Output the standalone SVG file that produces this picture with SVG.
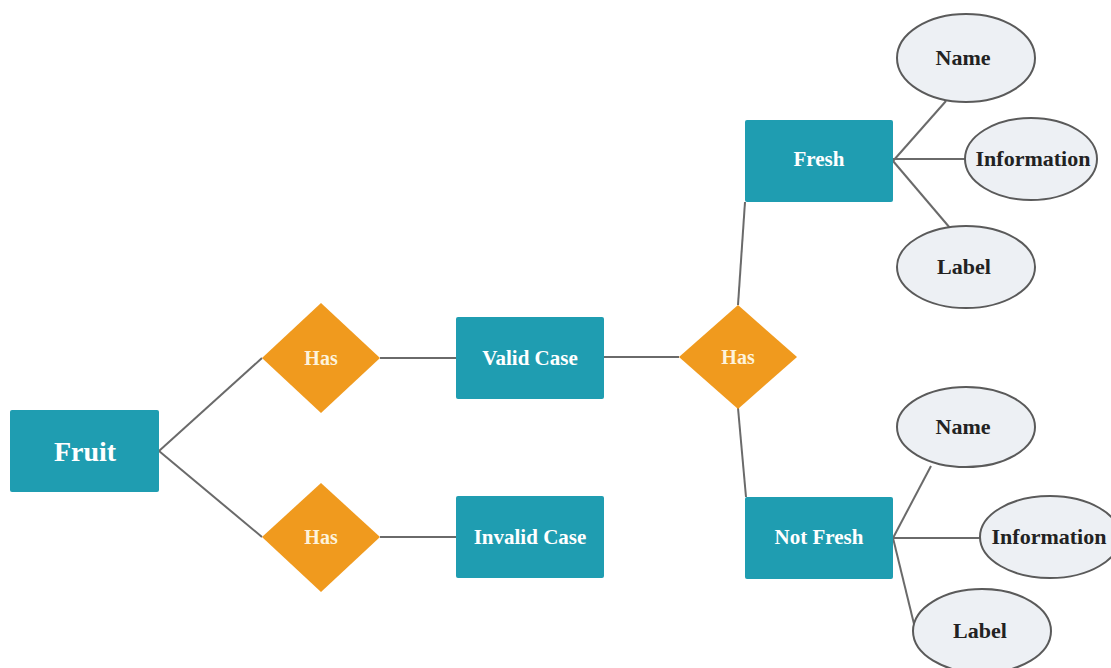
<svg xmlns="http://www.w3.org/2000/svg" width="1111" height="668" viewBox="0 0 1111 668">
<style>
.ent{fill:#1f9db1;}
.rel{fill:#f09a1e;}
.att{fill:#edf0f4;stroke:#5a5a5a;stroke-width:2;}
.conn line{stroke:#6a6a6a;stroke-width:2;}
text{font-family:"Liberation Serif","Times New Roman",serif;font-weight:bold;text-anchor:middle;}
.wt{fill:#ffffff;font-size:21px;}
.ht{fill:#fdf3dc;font-size:20px;}
.dt{fill:#222222;font-size:22px;}
</style>
<rect width="1111" height="668" fill="#ffffff"/>
<g class="conn">
<line x1="159" y1="451" x2="262" y2="358"/>
<line x1="159" y1="451" x2="262" y2="537"/>
<line x1="380" y1="358" x2="456" y2="358"/>
<line x1="380" y1="537" x2="456" y2="537"/>
<line x1="604" y1="357" x2="679" y2="357"/>
<line x1="738" y1="305" x2="745" y2="202"/>
<line x1="738" y1="408" x2="746" y2="497"/>
<line x1="893" y1="161" x2="946" y2="101"/>
<line x1="893" y1="159" x2="965" y2="159"/>
<line x1="893" y1="161" x2="950" y2="228"/>
<line x1="893" y1="538" x2="931" y2="466"/>
<line x1="893" y1="538" x2="980" y2="538"/>
<line x1="893" y1="538" x2="914" y2="624"/>
</g>
<g id="fruit"><rect class="ent" x="10" y="410" width="149" height="82" rx="2"/><text class="wt" x="85" y="461" style="font-size:28px">Fruit</text></g>
<g id="has1"><polygon class="rel" points="321,303 380,358 321,413 262,358"/><text class="ht" x="321" y="365">Has</text></g>
<g id="has2"><polygon class="rel" points="321,483 380,537 321,592 262,537"/><text class="ht" x="321" y="544">Has</text></g>
<g id="valid"><rect class="ent" x="456" y="317" width="148" height="82" rx="2"/><text class="wt" x="530" y="365">Valid Case</text></g>
<g id="invalid"><rect class="ent" x="456" y="496" width="148" height="82" rx="2"/><text class="wt" x="530" y="544">Invalid Case</text></g>
<g id="has3"><polygon class="rel" points="738,305 797,357 738,409 679,357"/><text class="ht" x="738" y="364">Has</text></g>
<g id="fresh"><rect class="ent" x="745" y="120" width="148" height="82" rx="2"/><text class="wt" x="819" y="166">Fresh</text></g>
<g id="notfresh"><rect class="ent" x="745" y="497" width="148" height="82" rx="2"/><text class="wt" x="819" y="544">Not Fresh</text></g>
<g id="name1"><ellipse class="att" cx="966" cy="58" rx="69" ry="44"/><text class="dt" x="963" y="65">Name</text></g>
<g id="info1"><ellipse class="att" cx="1031" cy="159" rx="66" ry="41"/><text class="dt" x="1033" y="166">Information</text></g>
<g id="label1"><ellipse class="att" cx="966" cy="267" rx="69" ry="41"/><text class="dt" x="964" y="274">Label</text></g>
<g id="name2"><ellipse class="att" cx="966" cy="427" rx="69" ry="40"/><text class="dt" x="963" y="434">Name</text></g>
<g id="info2"><ellipse class="att" cx="1050" cy="537" rx="70" ry="41"/><text class="dt" x="1049" y="544">Information</text></g>
<g id="label2"><ellipse class="att" cx="982" cy="631" rx="69" ry="42"/><text class="dt" x="980" y="638">Label</text></g>
</svg>
